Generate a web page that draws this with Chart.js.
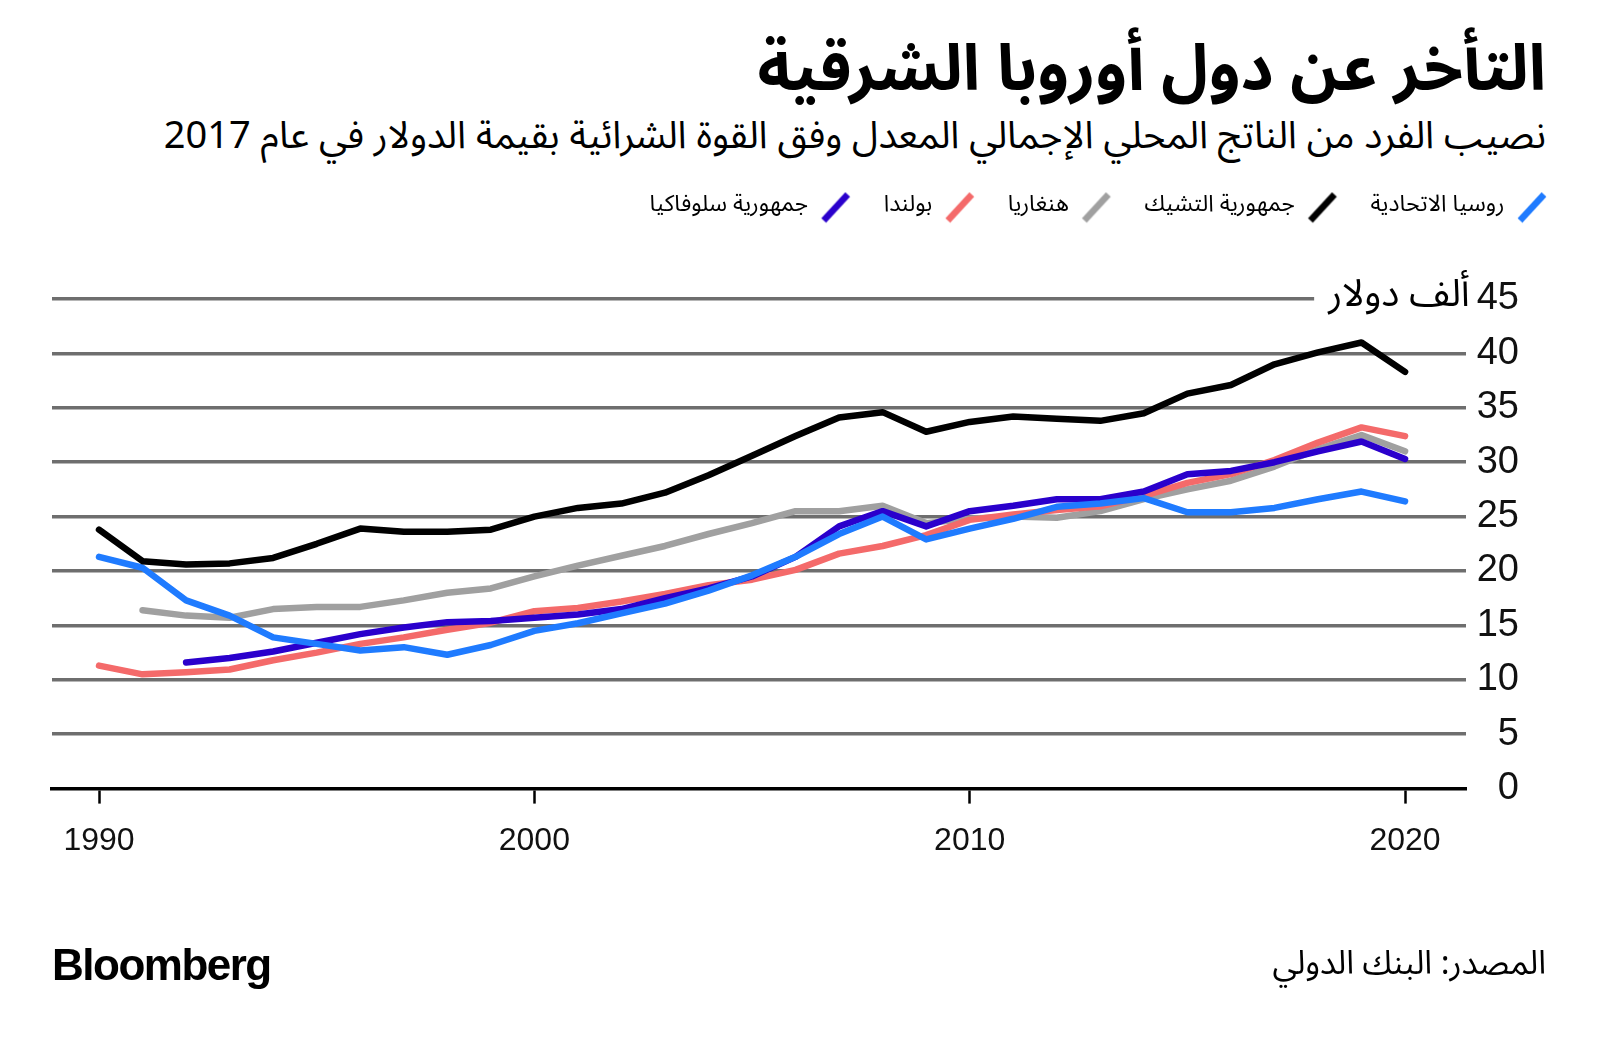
<!DOCTYPE html>
<html lang="ar">
<head>
<meta charset="utf-8">
<script src="https://cdn.jsdelivr.net/npm/chart.js@4.4.1/dist/chart.umd.min.js"></script>
<style>
  body { margin: 0; background: #fff; width: 1600px; height: 1047px; position: relative; overflow: hidden;
         font-family: 'Noto Sans Arabic', 'DejaVu Sans', sans-serif; }
  #chart { position: absolute; left: 0; top: 0; }
  .t { position: absolute; direction: rtl; white-space: nowrap; color: #000; }
  #title { right: 54px; top: 30px; font-size: 64px; font-weight: bold; line-height: 80px; }
  #sub { right: 54px; top: 112px; font-size: 38px; line-height: 48px; }
  #source { right: 54px; top: 944px; font-size: 33px; line-height: 40px; }
  #logo { left: 52px; top: 941px; font-family: 'Liberation Sans', Arial, sans-serif; font-weight: bold;
          font-size: 44px; line-height: 48px; letter-spacing: -1.5px; direction: ltr; }
</style>
</head>
<body>
<div class="t" id="title">التأخر عن دول أوروبا الشرقية</div>
<div class="t" id="sub">نصيب الفرد من الناتج المحلي الإجمالي المعدل وفق القوة الشرائية بقيمة الدولار في عام 2017</div>
<canvas id="chart" width="1600" height="1047"></canvas>
<div class="t" id="source">المصدر: البنك الدولي</div>
<div class="t" id="logo">Bloomberg</div>
<script>
// years on the x axis
const years = [1990, 1991, 1992, 1993, 1994, 1995, 1996, 1997, 1998, 1999, 2000,
  2001, 2002, 2003, 2004, 2005, 2006, 2007, 2008, 2009, 2010,
  2011, 2012, 2013, 2014, 2015, 2016, 2017, 2018, 2019, 2020];

// thousands of 2017 PPP dollars
const russia = [21.3, 20.3, 17.3, 15.9, 13.9, 13.3, 12.7, 13.0, 12.3, 13.2, 14.5,
  15.2, 16.1, 17.0, 18.2, 19.6, 21.3, 23.4, 25.0, 22.9, 23.9,
  24.8, 25.9, 26.2, 26.7, 25.4, 25.4, 25.8, 26.6, 27.3, 26.4];
const czech = [23.8, 20.9, 20.6, 20.7, 21.2, 22.5, 23.9, 23.6, 23.6, 23.8, 25.0,
  25.8, 26.2, 27.2, 28.8, 30.6, 32.4, 34.1, 34.6, 32.8, 33.7,
  34.2, 34.0, 33.8, 34.5, 36.3, 37.1, 39.0, 40.1, 41.0, 38.3];
const hungary = [null, 16.4, 15.9, 15.7, 16.5, 16.7, 16.7, 17.3, 18.0, 18.4, 19.5,
  20.5, 21.4, 22.3, 23.4, 24.4, 25.5, 25.5, 26.0, 24.4, 24.8,
  25.0, 24.9, 25.5, 26.6, 27.5, 28.3, 29.6, 31.2, 32.5, 31.0];
const poland = [11.3, 10.5, 10.7, 10.95, 11.8, 12.5, 13.3, 13.9, 14.6, 15.25, 16.3,
  16.6, 17.2, 17.9, 18.7, 19.2, 20.1, 21.6, 22.3, 23.3, 24.7,
  25.2, 25.6, 25.95, 26.9, 28.1, 28.9, 30.2, 31.8, 33.2, 32.4];
const slovakia = [null, null, 11.6, 12.0, 12.6, 13.4, 14.2, 14.8, 15.3, 15.4, 15.7,
  16.0, 16.5, 17.5, 18.4, 19.5, 21.3, 24.1, 25.5, 24.1, 25.5,
  26.0, 26.6, 26.6, 27.3, 28.9, 29.2, 30.0, 31.0, 31.9, 30.3];

const seriesNames = ['روسيا الاتحادية', 'جمهورية التشيك', 'هنغاريا', 'بولندا', 'جمهورية سلوفاكيا'];
const xTicks = [1990, 2000, 2010, 2020];
const yMax = 45;
const yStep = 5;
const yUnit = 'ألف دولار';

const arabicFont = "'Noto Sans Arabic', 'DejaVu Sans', sans-serif";
const numFont = "'Liberation Sans', Arial, sans-serif";

// legend swatch: a short slash
function slash(color) {
  const c = document.createElement('canvas');
  c.width = 32;
  c.height = 32;
  const g = c.getContext('2d');
  g.strokeStyle = color;
  g.lineWidth = 6.5;
  g.beginPath();
  g.moveTo(4, 29);
  g.lineTo(28, 3);
  g.stroke();
  return c;
}

const toPoints = (vals) => years.map((y, i) => ({ x: y, y: vals[i] }));

const makeSet = (i, vals, color, order) => ({
  label: seriesNames[i],
  data: toPoints(vals),
  borderColor: color,
  backgroundColor: color,
  borderWidth: 6.5,
  pointRadius: 0,
  pointHoverRadius: 0,
  pointStyle: slash(color),
  tension: 0,
  borderCapStyle: 'round',
  borderJoinStyle: 'round',
  fill: false,
  order: order,
});

// extra room under the legend, and push it to the right margin
const legendGap = {
  id: 'legendGap',
  beforeInit(chart) {
    const fit = chart.legend.fit;
    chart.legend.fit = function () {
      fit.call(this);
      this.height += 70;
    };
  },
  afterLayout(chart) {
    chart.legend.left += 61;
    chart.legend.right += 61;
  },
};

// "ألف دولار" next to the top tick, with the gridline cut short
const unitLabel = {
  id: 'unitLabel',
  beforeDatasetsDraw(chart) {
    const sc = chart.scales.y;
    const ctx = chart.ctx;
    const py = sc.getPixelForValue(yMax);
    ctx.save();
    ctx.font = '38px ' + numFont;
    const numW = ctx.measureText(String(yMax)).width;
    ctx.font = '38px ' + arabicFont;
    const unitRight = sc.right - numW - 7;
    const unitW = ctx.measureText(yUnit).width;
    const cutLeft = unitRight - unitW - 14;
    ctx.fillStyle = '#fff';
    ctx.fillRect(cutLeft, py - 4, chart.chartArea.right - cutLeft + 2, 8);
    ctx.fillStyle = '#000';
    ctx.textAlign = 'right';
    ctx.textBaseline = 'middle';
    ctx.fillText(yUnit, unitRight, py + 1);
    ctx.restore();
  },
};

new Chart(document.getElementById('chart').getContext('2d'), {
  type: 'line',
  data: {
    datasets: [
      makeSet(0, russia, '#1f7bff', 1),
      makeSet(1, czech, '#000000', 0),
      makeSet(2, hungary, '#a0a0a0', 4),
      makeSet(3, poland, '#f46a6a', 3),
      makeSet(4, slovakia, '#2a00cc', 2),
    ],
  },
  options: {
    responsive: false,
    devicePixelRatio: 1,
    animation: false,
    layout: { padding: { top: 164, right: 81, bottom: 169, left: 52 } },
    plugins: {
      tooltip: { enabled: false },
      legend: {
        position: 'top',
        align: 'start',
        rtl: true,
        textDirection: 'rtl',
        labels: {
          usePointStyle: true,
          pointStyleWidth: 32,
          boxHeight: 23,
          padding: 32,
          color: '#000',
          font: { family: arabicFont, size: 23 },
          sort: (a, b) => a.datasetIndex - b.datasetIndex,
        },
      },
    },
    scales: {
      x: {
        type: 'linear',
        min: 1988.92,
        max: 2021.4,
        afterBuildTicks: (scale) => { scale.ticks = xTicks.map((v) => ({ value: v })); },
        grid: {
          drawOnChartArea: false,
          drawTicks: true,
          tickLength: 15,
          tickColor: '#000',
          tickWidth: 2.5,
        },
        border: { display: true, color: '#000', width: 3.5 },
        ticks: {
          padding: 18,
          color: '#111',
          font: { family: numFont, size: 32 },
          callback: (v) => String(v),
        },
      },
      y: {
        position: 'right',
        min: 0,
        max: yMax,
        afterFit: (scale) => { scale.width = 53; },
        grid: {
          drawTicks: false,
          lineWidth: 3.5,
          color: (ctx) => (ctx.tick && ctx.tick.value === 0 ? 'rgba(0,0,0,0)' : '#6e6e6e'),
        },
        border: { display: false },
        ticks: {
          stepSize: yStep,
          padding: 9,
          crossAlign: 'far',
          color: '#111',
          font: { family: numFont, size: 38 },
        },
      },
    },
  },
  plugins: [legendGap, unitLabel],
});
</script>
</body>
</html>
